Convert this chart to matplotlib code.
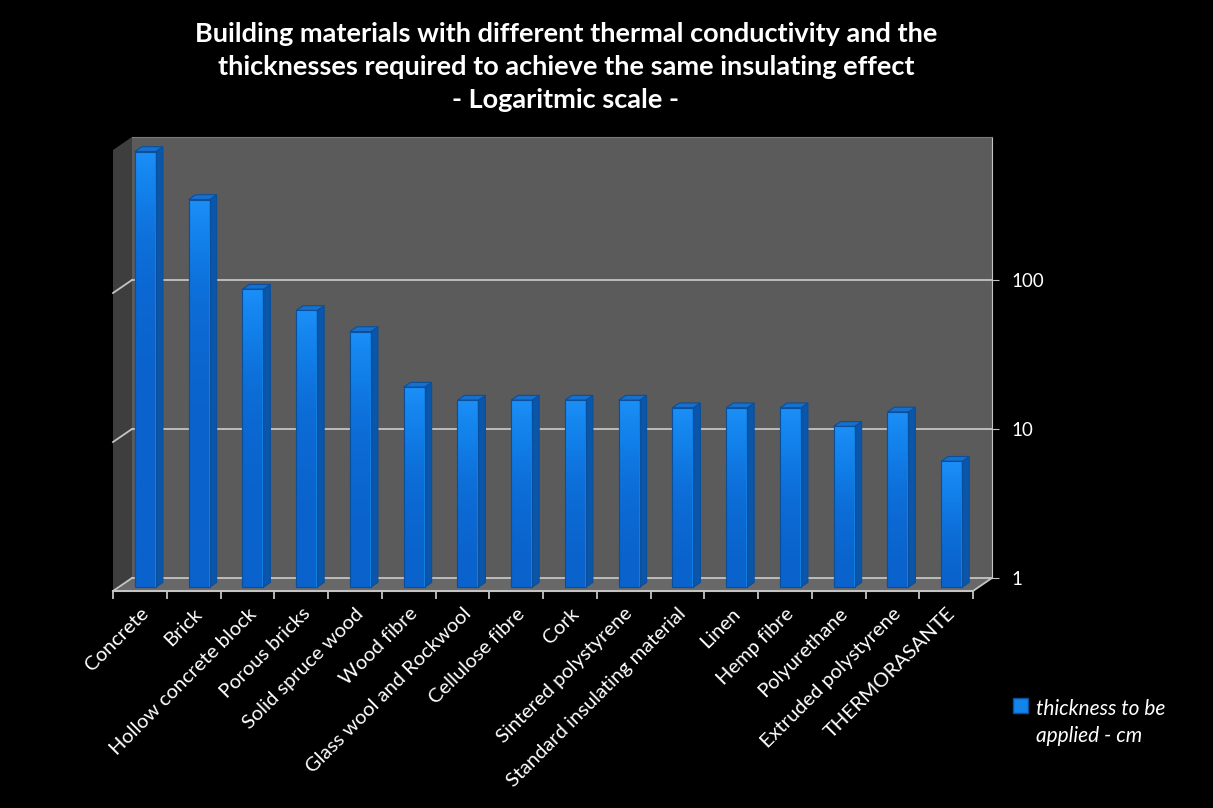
import numpy as np
import matplotlib
matplotlib.use("Agg")
import matplotlib.pyplot as plt
from matplotlib.patches import Polygon, Patch, Rectangle
from matplotlib.legend_handler import HandlerPatch
from matplotlib.colors import LinearSegmentedColormap

# data (thickness in cm, log scale)
materials = ["Concrete", "Brick", "Hollow concrete block", "Porous bricks",
             "Solid spruce wood", "Wood fibre", "Glass wool and Rockwool",
             "Cellulose fibre", "Cork", "Sintered polystyrene",
             "Standard insulating material", "Linen", "Hemp fibre",
             "Polyurethane", "Extruded polystyrene", "THERMORASANTE"]
thickness_cm = [840, 400, 100, 72, 52, 22, 18, 18, 18, 18, 16, 16, 16, 12, 15, 7]
y_ticks = [1, 10, 100]
series_label = "thickness to be\napplied - cm"
title = ("Building materials with different thermal conductivity and the\n"
         "thicknesses required to achieve the same insulating effect\n"
         "- Logaritmic scale -")

# layout (pixels)
W, H = 1213, 808
WALL = (132, 137, 992, 578)         # back wall: left, top, right, bottom
DEPTH_X, DEPTH_Y = 19, 13           # oblique depth of the floor
DECADE_PX = 149
BAR_FRONT = 0.71                    # bar front face, fraction of depth in front of wall
BAR_DEPTH = 0.37
BAR_WIDTH = 0.39

FACE = "#1384ec"
SIDE = "#0a56aa"
TOP = "#1770cc"
EDGE = "#0a4f9c"
LINE = "#c4c4c4"
face_cmap = LinearSegmentedColormap.from_list("face", ["#0a62cc", "#1280ea", "#1c90f8"])

label_font = ["Lato", "DejaVu Sans"]


def box(l, t, r, b, sx=0.0, sy=0.0):
    l, r, t, b = l + sx, r + sx, t + sy, b + sy
    return [l / W, 1 - b / H, (r - l) / W, (b - t) / H]


n = len(materials)
ymax = 10 ** ((WALL[3] - WALL[1]) / DECADE_PX)
cat_px = (WALL[2] - WALL[0]) / n

fig = plt.figure(figsize=(W / 100, H / 100), dpi=100, facecolor="black")

# ---- back wall, floor, side wall
ax_wall = fig.add_axes(box(*WALL))
ax_wall.set_facecolor("#5b5b5b")
ax_wall.set_yscale("log")
ax_wall.set_xlim(0, n)
ax_wall.set_ylim(1, ymax)
ax_wall.set_xticks([])
ax_wall.yaxis.tick_right()
ax_wall.set_yticks(y_ticks)
ax_wall.set_yticklabels([str(v) for v in y_ticks], color="white",
                        fontsize=13.5, family=label_font)
ax_wall.yaxis.set_minor_locator(matplotlib.ticker.NullLocator())
ax_wall.tick_params(axis="y", length=5, color=LINE, pad=9)
for s in ["left", "bottom"]:
    ax_wall.spines[s].set_visible(False)
ax_wall.spines["right"].set_color(LINE)
ax_wall.spines["top"].set_color("#7a7a7a")

dxd = DEPTH_X / cat_px
f = 10 ** (DEPTH_Y / DECADE_PX)
ax_wall.add_patch(Polygon([(0, 1), (n, 1), (n - dxd, 1 / f), (-dxd, 1 / f)],
                          closed=True, facecolor="#686868", edgecolor="none",
                          clip_on=False, zorder=0.5))
ax_wall.add_patch(Polygon([(0, 1), (0, ymax), (-dxd, ymax / f), (-dxd, 1 / f)],
                          closed=True, facecolor="#3e3e3e", edgecolor="none",
                          clip_on=False, zorder=0.5))
for v in y_ticks:
    ax_wall.plot([0, n], [v, v], color=LINE, lw=1.3, zorder=0.8, clip_on=False)
    ax_wall.plot([-dxd, 0], [v / f, v], color=LINE, lw=1.3, zorder=0.8,
                 clip_on=False)
ax_wall.plot([n - dxd, n], [1 / f, 1], color=LINE, lw=1.3, clip_on=False)

# ---- bars (front plane)
sx = -BAR_FRONT * DEPTH_X
sy = BAR_FRONT * DEPTH_Y
ax = fig.add_axes(box(*WALL, sx=sx, sy=sy))
ax.set_facecolor("none")
ax.set_yscale("log")
ax.set_xlim(0, n)
ax.set_ylim(1, ymax)
ax.axis("off")

x = np.arange(n) + 0.5
bars = ax.bar(x, np.array(thickness_cm) - 1, bottom=1, width=BAR_WIDTH,
              color=FACE, edgecolor=EDGE, linewidth=0.8, zorder=3,
              clip_on=False)
grad = np.linspace(0, 1, 64).reshape(-1, 1) * np.ones((1, 8))
bdx = BAR_DEPTH * DEPTH_X / cat_px
bf = 10 ** (BAR_DEPTH * DEPTH_Y / DECADE_PX)
for b, xi, v in zip(bars, x, thickness_cm):
    x0, x1 = xi - BAR_WIDTH / 2, xi + BAR_WIDTH / 2
    im = ax.imshow(grad, cmap=face_cmap, origin="lower", aspect="auto",
                   extent=(x0, x1, 1, v), interpolation="bilinear", zorder=3.1)
    im.set_clip_path(b)
    ax.add_patch(Rectangle((x0, 1), BAR_WIDTH, v - 1, facecolor="none",
                           edgecolor=EDGE, lw=0.8, zorder=3.2))
    ax.add_patch(Polygon([(x1, 1), (x1, v), (x1 + bdx, v * bf), (x1 + bdx, bf)],
                         closed=True, facecolor=SIDE, edgecolor=EDGE, lw=0.8,
                         zorder=2, clip_on=False))
    ax.add_patch(Polygon([(x0, v), (x1, v), (x1 + bdx, v * bf), (x0 + bdx, v * bf)],
                         closed=True, facecolor=TOP, edgecolor=EDGE, lw=0.8,
                         zorder=2, clip_on=False))
ax.set_xlim(0, n)
ax.set_ylim(1, ymax)

# ---- category axis along the front edge of the floor
ax_lab = fig.add_axes(box(*WALL, sx=-DEPTH_X, sy=DEPTH_Y))
ax_lab.set_facecolor("none")
ax_lab.set_xlim(0, n)
ax_lab.set_yticks([])
for s in ["left", "right", "top"]:
    ax_lab.spines[s].set_visible(False)
ax_lab.spines["bottom"].set_color(LINE)
ax_lab.spines["bottom"].set_linewidth(1.5)
ax_lab.set_xticks(np.arange(n + 1))
ax_lab.set_xticklabels([])
ax_lab.set_xticks(x, minor=True)
ax_lab.set_xticklabels(materials, minor=True, rotation=45, ha="right",
                       rotation_mode="anchor", color="white", fontsize=14.5,
                       family=label_font)
ax_lab.tick_params(axis="x", which="major", length=6, width=1.3, color=LINE)
ax_lab.tick_params(axis="x", which="minor", length=0, pad=10)


# ---- legend and title
def top_square(legend, orig_handle, xdescent, ydescent, width, height, fontsize):
    return Rectangle((-xdescent, -ydescent + 0.85 * fontsize), width, height)


leg = fig.legend(handles=[Patch(facecolor=FACE, edgecolor=EDGE)], labels=[series_label],
                 loc="upper left", bbox_to_anchor=(994 / W, 1 - 680 / H),
                 frameon=False, handlelength=0.75, handleheight=0.75,
                 handletextpad=0.35, labelcolor="white",
                 handler_map={Patch: HandlerPatch(patch_func=top_square)},
                 prop={"family": label_font, "style": "italic", "size": 15})
leg.get_texts()[0].set_linespacing(1.45)

fig.text(566 / W, 1 - 22 / H, title, ha="center", va="top", color="white",
         fontsize=19.5, fontweight="bold", family=label_font, linespacing=1.45)

fig.savefig("out.png", dpi=100, facecolor="black")
